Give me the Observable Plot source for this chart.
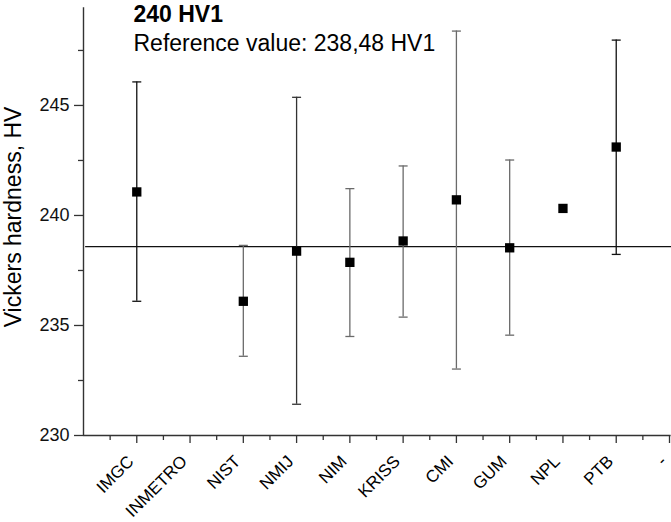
<!DOCTYPE html>
<html>
<head>
<meta charset="utf-8">
<script src="https://cdn.jsdelivr.net/npm/d3@7"></script>
<script src="https://cdn.jsdelivr.net/npm/@observablehq/plot@0.6"></script>
<style>
  html, body { margin: 0; padding: 0; background: #fff; }
  #chart svg { display: block; }
</style>
</head>
<body>
<div id="chart"></div>
<script>
// ---- Data ----
const labs   = ["IMGC", "INMETRO", "NIST", "NMIJ", "NIM", "KRISS", "CMI", "GUM", "NPL", "PTB", "-"];
const values = [241.07, null, 236.10, 238.38, 237.87, 238.84, 240.71, 238.53, 240.32, 243.11, null];
const lower  = [236.10, null, 233.60, 231.42, 234.50, 235.38, 233.02, 234.56, null, 238.23, null];
const upper  = [246.07, null, 238.64, 245.37, 241.22, 242.25, 248.38, 242.52, null, 247.97, null];
const refLine = 238.58;
const yMajorTicks = [230, 235, 240, 245];
const yMinorTicks = [232.5, 237.5, 242.5, 247.5];
const titleText = "240 HV1";
const subtitleText = "Reference value: 238,48 HV1";
const yLabel = "Vickers hardness, HV";

// ---- Build rows ----
const rows = labs.map((lab, k) => ({i: k + 1, lab, v: values[k], lo: lower[k], hi: upper[k]}));
const pts = rows.filter(d => d.v != null);
const bars = rows.filter(d => d.lo != null && d.hi != null);

const barColor = {IMGC: "#111", NIST: "#6a6a6a", NMIJ: "#333", NIM: "#6a6a6a", KRISS: "#6a6a6a", CMI: "#6a6a6a", GUM: "#6a6a6a", PTB: "#111"};

const capSymbol = {
  draw(ctx, size) { ctx.moveTo(-4.5, 0); ctx.lineTo(4.5, 0); }
};

const yTop = 249.44;
const axisColor = "#333";

const chart = Plot.plot({
  width: 671,
  height: 522,
  marginLeft: 83,
  marginRight: 2,
  marginTop: 0,
  marginBottom: 87,
  x: {type: "linear", domain: [0, labs.length]},
  y: {domain: [230, 249.77]},
  style: {fontFamily: "'Liberation Sans', Arial, sans-serif", background: "#fff", color: "#111"},
  marks: [
    // axis lines
    Plot.ruleX([0], {y1: 230, y2: yTop, stroke: axisColor, strokeWidth: 1.4}),
    Plot.ruleY([230], {x1: 0, x2: labs.length + 0.03, stroke: axisColor, strokeWidth: 1.4}),
    // y ticks
    Plot.axisY({ticks: yMajorTicks, tickSize: 9, tickPadding: 5, fontSize: 18, label: null, stroke: axisColor, strokeWidth: 1.3}),
    Plot.axisY({ticks: yMinorTicks, tickSize: 5, tickFormat: () => "", label: null, stroke: axisColor, strokeWidth: 1.3}),
    // x ticks (marks)
    Plot.axisX({ticks: d3.range(1, labs.length + 1), tickSize: 8, tickFormat: () => "", label: null, stroke: axisColor, strokeWidth: 1.3}),
    Plot.axisX({ticks: d3.range(0.5, labs.length, 1), tickSize: 5, tickFormat: () => "", label: null, stroke: axisColor, strokeWidth: 1.3}),
    // x tick labels, rotated 45°
    Plot.text(rows, {x: "i", y: 230, text: "lab", rotate: -45, textAnchor: "end", lineAnchor: "bottom",
      dx: -2, dy: 27, fontSize: 17, fill: "#000"}),
    // reference line
    Plot.ruleY([refLine], {x1: 0.04, x2: labs.length + 0.04, stroke: "#111", strokeWidth: 1.3}),
    // error bars
    Plot.ruleX(bars, {x: "i", y1: "lo", y2: "hi", stroke: d => barColor[d.lab], strokeWidth: 1.3}),
    Plot.dot(bars, {x: "i", y: "lo", symbol: capSymbol, r: 4, stroke: d => barColor[d.lab], strokeWidth: 1.3, fill: "none"}),
    Plot.dot(bars, {x: "i", y: "hi", symbol: capSymbol, r: 4, stroke: d => barColor[d.lab], strokeWidth: 1.3, fill: "none"}),
    // points
    Plot.dot(pts, {x: "i", y: "v", symbol: "square", r: 5.25, fill: "#000", stroke: "none"}),
    // titles
    Plot.text([titleText], {frameAnchor: "top-left", dx: 50, dy: 5, textAnchor: "start", lineAnchor: "top",
      fontSize: 23, fontWeight: "bold", fill: "#000", letterSpacing: "-0.6px"}),
    Plot.text([subtitleText], {frameAnchor: "top-left", dx: 50, dy: 34, textAnchor: "start", lineAnchor: "top",
      fontSize: 23, fill: "#000"}),
    // y label
    Plot.text([yLabel], {frameAnchor: "left", dx: -70, dy: -1, rotate: -90, textAnchor: "middle",
      fontSize: 23, fill: "#000"})
  ]
});
document.getElementById("chart").append(chart);
</script>
</body>
</html>
